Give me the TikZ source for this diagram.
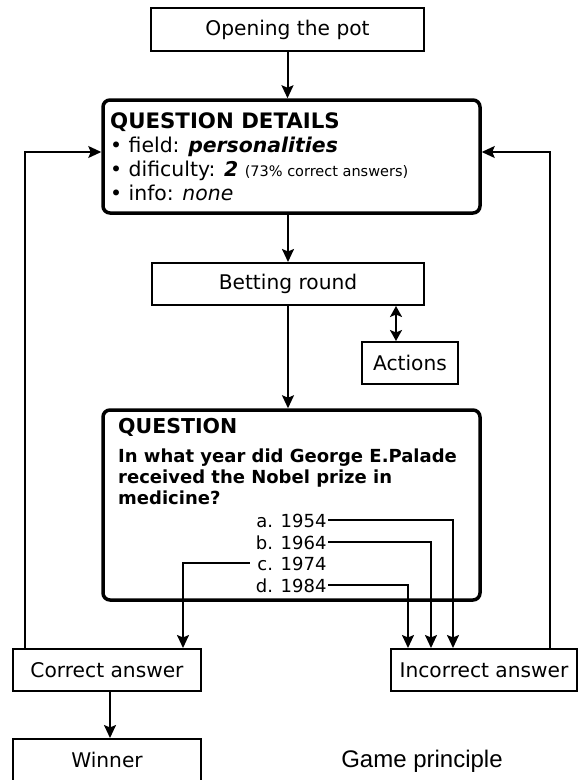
\documentclass[tikz,border=0pt]{standalone}
\usepackage{fontspec}
\setmainfont{DejaVu Sans}
\newfontfamily\arialfont{Liberation Sans}
\usetikzlibrary{arrows.meta}
\begin{document}
\begin{tikzpicture}[x=1pt,y=-1pt,
  box/.style={draw, line width=2pt, inner sep=0pt, font=\fontsize{20.2}{24}\selectfont},
  bigbox/.style={draw, line width=3.5pt, rounded corners=7pt, inner sep=0pt},
  txt/.style={anchor=base west, inner sep=0pt},
  hdr/.style={txt, font=\fontsize{21.3}{25}\selectfont\bfseries},
  qhdr/.style={txt, font=\fontsize{20.5}{24}\selectfont\bfseries},
  qline/.style={txt, font=\fontsize{18}{22}\selectfont\bfseries},
  dline/.style={txt, font=\fontsize{20.4}{24}\selectfont},
  opt/.style={anchor=base east, inner sep=0pt, outer sep=1.5pt, font=\fontsize{18}{22}\selectfont},
  tip/.style={-{Stealth[length=13pt,width=12pt,inset=2.5pt]}},
  arr/.style={line width=2pt, tip},
  link/.style={line width=2pt, tip},
  back/.style={line width=1.4pt, tip}
]
\useasboundingbox (0,0) rectangle (578,780);

% boxes
\node[box, minimum width=273pt, minimum height=43pt] (open) at (287.5,29.5) {Opening the pot};
\node[bigbox, minimum width=377pt, minimum height=113pt] (det) at (291.5,156.5) {};
\node[box, minimum width=272pt, minimum height=42pt] (bet) at (288,284) {Betting round};
\node[box, minimum width=96pt, minimum height=42pt] (act) at (410,363) {Actions};
\node[bigbox, minimum width=377pt, minimum height=190pt] (q) at (291.5,505) {};
\node[box, minimum width=188pt, minimum height=42pt] (corr) at (107,670) {Correct answer};
\node[box, minimum width=188pt, minimum height=42pt] (win) at (107,760) {Winner};
\node[box, minimum width=186pt, minimum height=42pt] (inc) at (484,670) {Incorrect answer};

% details text
\node[hdr] (d0) at (110,128) {QUESTION DETAILS};
\node[dline] (d1) at (110,152) {• field: \textbf{\textit{personalities}}};
\node[dline] (d2) at (110,176) {• dificulty: \textbf{\textit{2}} {\fontsize{14.5}{17}\selectfont (73\% correct answers)}};
\node[dline] (d3) at (110,200) {• info: \textit{none}};

% question text
\node[qhdr] (q0) at (118,433) {QUESTION};
\node[qline] (q1) at (118,462) {In what year did George E.Palade};
\node[qline] (q2) at (118,483) {received the Nobel prize in};
\node[qline] (q3) at (118,504) {medicine?};
\node[opt] (oa) at (328,527) {a. 1954};
\node[opt] (ob) at (328,549) {b. 1964};
\node[opt] (oc) at (328,570) {c. 1974};
\node[opt] (od) at (328,592) {d. 1984};

\node[anchor=base, inner sep=0pt, font=\arialfont\fontsize{24}{28}\selectfont] (title) at (422,767) {Game principle};

% connectors
\draw[arr] (open.south) -- (open.south |- det.north);
\draw[arr] (det.south -| bet.north) -- (bet.north);
\draw[arr] (bet.south) -- (bet.south |- q.north);
\draw[line width=2pt, {Stealth[length=11pt,width=12pt,inset=2.5pt]}-{Stealth[length=11pt,width=12pt,inset=2.5pt]}] ([xshift=-14pt]act.north) -- ([xshift=-14pt]act.north |- bet.south);

\draw[link] (oa.east) -| ([xshift=63pt]inc.north west);
\draw[link] (ob.east) -| ([xshift=41pt]inc.north west);
\draw[link] (od.east) -| ([xshift=18pt]inc.north west);
\draw[link] ([xshift=-6pt]oc.west) -| ([xshift=-19pt]corr.north east);

\draw[arr] ([xshift=3pt]corr.south) -- ([xshift=3pt]win.north);
\draw[back] ([xshift=13pt]corr.north west) |- ([yshift=4.5pt]det.west);
\draw[back] ([xshift=-28pt]inc.north east) |- ([yshift=4.5pt]det.east);
\end{tikzpicture}
\end{document}
